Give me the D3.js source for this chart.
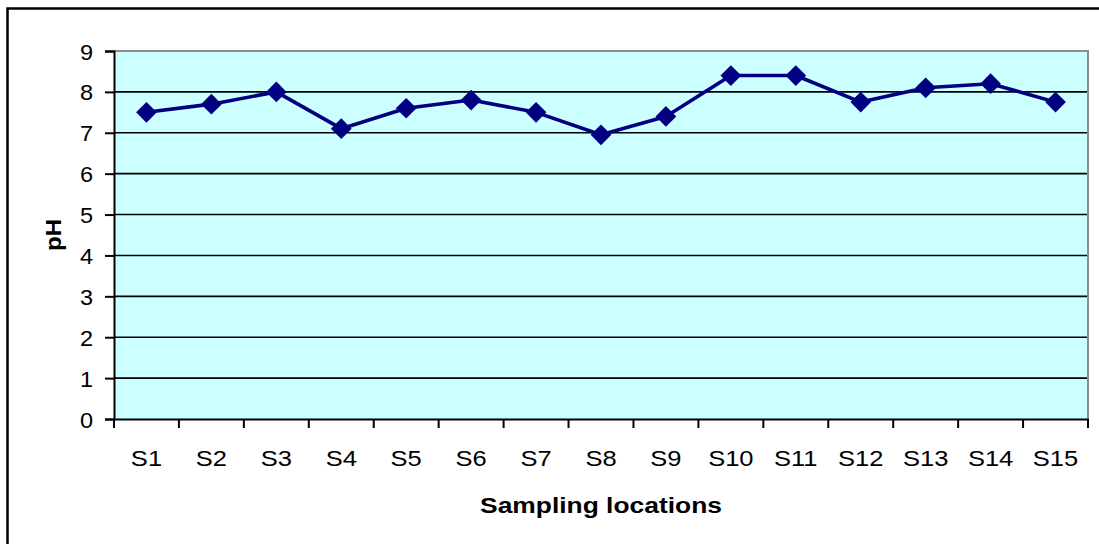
<!DOCTYPE html>
<html>
<head>
<meta charset="utf-8">
<script src="https://cdn.jsdelivr.net/npm/d3@7"></script>
<style>
  html, body { margin: 0; padding: 0; background: #ffffff; }
  svg { display: block; }
  text { font-family: "Liberation Sans", Arial, sans-serif; fill: #000; }
</style>
</head>
<body>
<svg id="chart" width="1099" height="544"></svg>
<script>
// pH at each sampling location
const locations = ["S1","S2","S3","S4","S5","S6","S7","S8","S9","S10","S11","S12","S13","S14","S15"];
const phValues  = [7.5, 7.7, 8.0, 7.1, 7.6, 7.8, 7.5, 6.95, 7.4, 8.4, 8.4, 7.75, 8.1, 8.2, 7.75];
const yTicks    = [0, 1, 2, 3, 4, 5, 6, 7, 8, 9];
const xTitle = "Sampling locations";
const yTitle = "pH";

const svg = d3.select("#chart");
const plot = { left: 114, right: 1088, top: 51, bottom: 419 };

// outer chart frame (continues past the right and bottom edges)
svg.append("rect")
  .attr("x", 7.5).attr("y", 8.5)
  .attr("width", 1120).attr("height", 560)
  .attr("fill", "#fff").attr("stroke", "#000").attr("stroke-width", 2.5);

const x = d3.scaleBand().domain(locations).range([plot.left, plot.right]).padding(0);
const y = d3.scaleLinear().domain([0, 9]).range([plot.bottom, plot.top]);

// plot background
svg.append("rect")
  .attr("x", plot.left).attr("y", plot.top)
  .attr("width", plot.right - plot.left).attr("height", plot.bottom - plot.top)
  .attr("fill", "#ccffff");

// horizontal gridlines
svg.append("g").selectAll("line")
  .data(yTicks.filter(t => t > 0 && t < 9))
  .join("line")
  .attr("x1", plot.left).attr("x2", plot.right)
  .attr("y1", d => y(d)).attr("y2", d => y(d))
  .attr("stroke", "#000").attr("stroke-width", 1.6);

// grey top and right edges of the plot area
svg.append("path")
  .attr("d", `M${plot.left},${y(9)}H${plot.right}V${plot.bottom}`)
  .attr("fill", "none").attr("stroke", "#8c8c8c").attr("stroke-width", 2);

// y axis
const yAxis = svg.append("g")
  .attr("transform", `translate(${plot.left},0)`)
  .call(d3.axisLeft(y).tickValues(yTicks).tickSize(9).tickPadding(0).tickFormat(d3.format("d")));
yAxis.select(".domain").attr("stroke", "#000").attr("stroke-width", 2);
yAxis.selectAll(".tick line").attr("stroke", "#000").attr("stroke-width", 2);
yAxis.selectAll(".tick text")
  .attr("x", null).attr("dy", null)
  .attr("font-size", 22)
  .attr("font-family", "Liberation Sans, Arial, sans-serif")
  .attr("fill", "#000")
  .attr("text-anchor", "end")
  .attr("transform", "translate(-21,8) scale(1.07,1)");

// x axis: ticks sit on the category boundaries
const xAxis = svg.append("g")
  .attr("transform", `translate(0,${plot.bottom})`)
  .call(d3.axisBottom(x).tickSize(0).tickPadding(0));
xAxis.select(".domain").attr("stroke", "#000").attr("stroke-width", 2.2);
xAxis.selectAll(".tick line").remove();
xAxis.selectAll(".tick text")
  .attr("y", null).attr("dy", null)
  .attr("font-size", 22)
  .attr("font-family", "Liberation Sans, Arial, sans-serif")
  .attr("fill", "#000")
  .attr("text-anchor", "middle")
  .attr("transform", "translate(0,47) scale(1.16,1)");

const bounds = locations.map(d => x(d)).concat([x(locations[locations.length - 1]) + x.bandwidth()]);
svg.append("g").selectAll("line")
  .data(bounds)
  .join("line")
  .attr("x1", d => d).attr("x2", d => d)
  .attr("y1", plot.bottom).attr("y2", plot.bottom + 9)
  .attr("stroke", "#000").attr("stroke-width", 2);

// axis titles
svg.append("text")
  .attr("transform", `translate(${(plot.left + plot.right) / 2},513) scale(1.2,1)`)
  .attr("text-anchor", "middle")
  .attr("font-size", 22).attr("font-weight", "bold")
  .text(xTitle);

svg.append("text")
  .attr("transform", `translate(61,${(plot.top + plot.bottom) / 2}) rotate(-90) scale(1.1,1)`)
  .attr("text-anchor", "middle")
  .attr("font-size", 22).attr("font-weight", "bold")
  .text(yTitle);

// data line and diamond markers
const cx = d => x(d) + x.bandwidth() / 2;
const line = d3.line()
  .x((d, i) => cx(locations[i]))
  .y(d => y(d));

svg.append("path")
  .datum(phValues)
  .attr("d", line)
  .attr("fill", "none")
  .attr("stroke", "#000080")
  .attr("stroke-width", 3.6)
  .attr("stroke-linejoin", "round");

const diamond = d3.symbol(d3.symbolSquare, 215);
svg.append("g").selectAll("path")
  .data(phValues)
  .join("path")
  .attr("d", diamond)
  .attr("transform", (d, i) => `translate(${cx(locations[i])},${y(d)}) rotate(45)`)
  .attr("fill", "#000080");
</script>
</body>
</html>
